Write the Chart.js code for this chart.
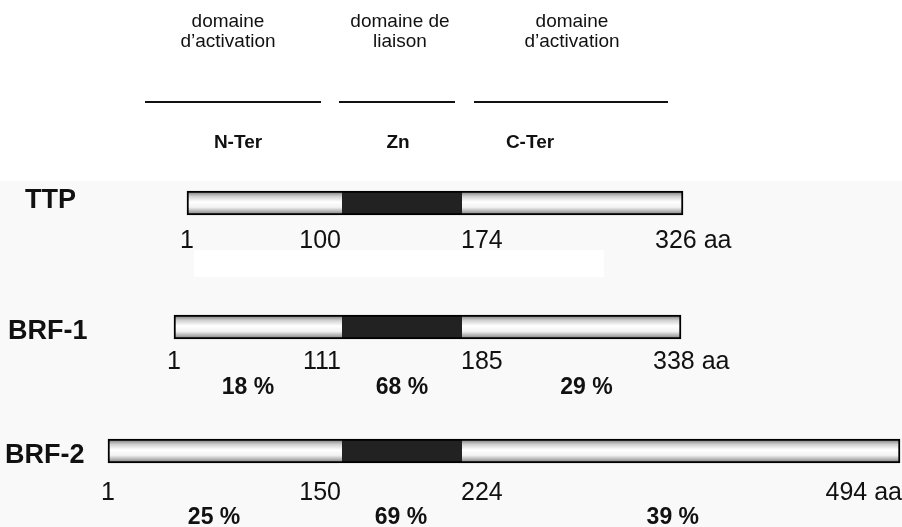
<!DOCTYPE html>
<html><head><meta charset="utf-8">
<script src="https://cdn.jsdelivr.net/npm/chart.js@4.4.1/dist/chart.umd.min.js"></script>
<style>html,body{margin:0;padding:0;background:#fff}#wrap{width:902px;height:527px}</style>
</head><body><div id="wrap"><canvas id="c" width="902" height="527"></canvas></div>
<script>
// ---- data ----
const proteins = ['TTP', 'BRF-1', 'BRF-2'];
// schematic drawn widths of the three domains (figure is not to scale; Zn domains aligned)
const nTerWidth = [155, 168, 234];
const znWidth   = [120, 120, 120];
const cTerWidth = [221, 219, 438];
// amino-acid boundaries printed under each bar
const aaBounds = [
  [1, 100, 174, 326],
  [1, 111, 185, 338],
  [1, 150, 224, 494]
];
// identity percentages vs TTP (N-Ter, Zn, C-Ter)
const identityPct = [
  null,
  [18, 68, 29],
  [25, 69, 39]
];
const domainTitles = [['domaine', 'd\u2019activation'], ['domaine de', 'liaison'], ['domaine', 'd\u2019activation']];
const domainNames = ['N-Ter', 'Zn', 'C-Ter'];

// ---- build floating bar data from the widths ----
const nTerData = nTerWidth.map(w => [-w, 0]);
const znData = znWidth.map(w => [0, w]);
const cTerData = cTerWidth.map((w, i) => [znWidth[i], znWidth[i] + w]);

const FONT = '"Liberation Sans", Arial, Helvetica, sans-serif';

function lightGrad(ctx) {
  const chart = ctx.chart;
  const y = chart.scales && chart.scales.y;
  if (!chart.chartArea || !y) return '#eeeeee';
  const c = y.getPixelForValue(ctx.dataIndex);
  const g = chart.ctx.createLinearGradient(0, c - 12, 0, c + 12);
  g.addColorStop(0, '#6e6e6e');
  g.addColorStop(0.22, '#cfcfcf');
  g.addColorStop(0.45, '#ffffff');
  g.addColorStop(0.68, '#f2f2f2');
  g.addColorStop(1, '#787878');
  return g;
}

const decor = {
  id: 'decor',
  beforeDraw(chart) {
    const ctx = chart.ctx;
    ctx.save();
    ctx.fillStyle = '#ffffff';
    ctx.fillRect(0, 0, chart.width, chart.height);
    ctx.fillStyle = '#f9f9f9';
    ctx.fillRect(0, 181, chart.width, chart.height - 181);
    ctx.fillStyle = '#ffffff';
    ctx.fillRect(194, 250, 410, 27);
    ctx.restore();
  },
  afterDatasetsDraw(chart) {
    const ctx = chart.ctx;
    const x = chart.scales.x, y = chart.scales.y;
    ctx.save();
    ctx.fillStyle = '#111';
    ctx.strokeStyle = '#111';
    // header titles
    const titleCenters = [-114, 58, 230];
    ctx.font = '19px ' + FONT;
    ctx.textAlign = 'center';
    ctx.textBaseline = 'alphabetic';
    domainTitles.forEach((t, i) => {
      const px = x.getPixelForValue(titleCenters[i]);
      ctx.fillText(t[0], px, 27);
      ctx.fillText(t[1], px, 47);
    });
    // header rules
    const rules = [[-197, -21], [-3, 113], [132, 326]];
    ctx.lineWidth = 2;
    rules.forEach(r => {
      ctx.beginPath();
      ctx.moveTo(x.getPixelForValue(r[0]), 102);
      ctx.lineTo(x.getPixelForValue(r[1]), 102);
      ctx.stroke();
    });
    // domain names
    const nameCenters = [-104, 56, 188];
    ctx.font = 'bold 19px ' + FONT;
    domainNames.forEach((n, i) => ctx.fillText(n, x.getPixelForValue(nameCenters[i]), 148));
    // per-protein labels
    const labelLeft = [25, 8, 5];
    const labelDy = [-2, 5, 5];
    const numDy = [45, 42, 49];
    const pctDy = [0, 67, 73];
    proteins.forEach((p, i) => {
      const c = y.getPixelForValue(i);
      ctx.font = 'bold 27px ' + FONT;
      ctx.textAlign = 'left';
      ctx.textBaseline = 'middle';
      ctx.fillText(p, labelLeft[i], c + labelDy[i]);
      // aa boundaries
      const start = nTerData[i][0], zs = znData[i][0], ze = znData[i][1], end = cTerData[i][1];
      const b = aaBounds[i];
      const base = c + numDy[i];
      ctx.font = '25px ' + FONT;
      ctx.textBaseline = 'alphabetic';
      ctx.textAlign = 'left';
      const t = b.map((v, k) => k === 3 ? v + ' aa' : String(v));
      const w = t.map(s => ctx.measureText(s).width);
      const lefts = [
        x.getPixelForValue(start) - w[0] / 2,
        x.getPixelForValue(zs) - 1 - w[1],
        x.getPixelForValue(ze) - 1,
        Math.min(x.getPixelForValue(end) - 28, chart.width - w[3])
      ];
      t.forEach((s, k) => ctx.fillText(s, lefts[k], base));
      const centers = lefts.map((l, k) => l + w[k] / 2);
      // identity percentages, centred between the printed boundaries
      const pct = identityPct[i];
      if (pct) {
        ctx.font = 'bold 23px ' + FONT;
        ctx.textAlign = 'center';
        pct.forEach((v, k) => {
          const px = (centers[k] + centers[k + 1]) / 2;
          ctx.fillText(v + ' %', px, c + pctDy[i]);
        });
      }
    });
    ctx.restore();
  }
};

new Chart(document.getElementById('c'), {
  type: 'bar',
  data: {
    labels: proteins,
    datasets: [
      { label: 'N-Ter', data: nTerData, backgroundColor: lightGrad, borderColor: '#000',
        borderWidth: { top: 2, bottom: 2, left: 2, right: 0 }, borderSkipped: false },
      { label: 'Zn', data: znData, backgroundColor: '#222222', borderColor: '#000',
        borderWidth: { top: 2, bottom: 2, left: 0, right: 0 }, borderSkipped: false },
      { label: 'C-Ter', data: cTerData, backgroundColor: lightGrad, borderColor: '#000',
        borderWidth: { top: 2, bottom: 2, left: 0, right: 2 }, borderSkipped: false }
    ]
  },
  options: {
    indexAxis: 'y',
    responsive: false,
    animation: false,
    events: [],
    datasets: { bar: { grouped: false, barThickness: 24 } },
    layout: { padding: { left: 0, right: 0, top: 141, bottom: 14 } },
    plugins: { legend: { display: false }, tooltip: { enabled: false } },
    scales: {
      x: { type: 'linear', min: -342, max: 560, display: false },
      y: { type: 'category', display: false, offset: true }
    }
  },
  plugins: [decor]
});
</script>
</body></html>
